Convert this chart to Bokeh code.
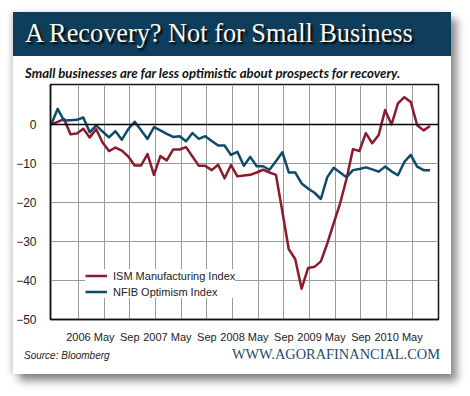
import pandas as pd
from bokeh.plotting import figure
from bokeh.models import Range1d, FixedTicker, Span, Legend, LegendItem, Div, ColumnDataSource, Spacer
from bokeh.layouts import column, row
from bokeh.embed import file_html
from bokeh.resources import INLINE

# ---- data ----
months = pd.period_range("2005-09", periods=60, freq="M")
ism = [0.0, 0.7, 1.4, -2.5, -2.3, -1.1, -3.3, -1.2, -4.6, -6.8,
       -5.9, -6.7, -8.2, -10.5, -10.5, -7.6, -12.9, -8.1, -9.2, -6.4,
       -6.4, -5.8, -8.2, -10.6, -10.6, -11.7, -10.3, -13.8, -10.4, -13.3,
       -13.1, -12.9, -12.3, -11.6, -12.3, -12.9, -22.3, -32.0, -34.5, -42.1,
       -36.8, -36.5, -35.1, -30.5, -25.3, -20.2, -13.9, -6.3, -6.8, -2.2,
       -4.8, -2.7, 3.7, 0.0, 5.4, 7.0, 5.8, -0.2, -1.5, -0.4]
nfib = [0.0, 4.0, 1.0, 1.1, 1.2, 1.8, -2.0, -0.2, -1.8, -3.3,
        -1.7, -3.9, -1.2, 0.7, -1.5, -3.7, -0.7, -1.5, -2.4, -3.2,
        -3.0, -4.3, -2.2, -3.7, -3.0, -4.2, -5.4, -5.4, -7.8, -7.0,
        -10.6, -8.3, -10.7, -10.7, -11.6, -9.4, -7.1, -12.3, -12.3, -15.1,
        -16.4, -17.5, -19.1, -13.5, -11.1, -12.3, -13.5, -11.7, -11.4, -11.0,
        -11.5, -12.1, -10.8, -12.0, -13.0, -9.6, -7.8, -10.8, -11.7, -11.7]
tick_dates = ["2006-01", "2006-05", "2006-09", "2007-01", "2007-05", "2007-09",
              "2008-01", "2008-05", "2008-09", "2009-01", "2009-05", "2009-09",
              "2010-01", "2010-05"]
tick_labels = ["2006", "May", "Sep", "2007", "May", "Sep", "2008", "May", "Sep",
               "2009", "May", "Sep", "2010", "May"]
y_ticks = [-50, -40, -30, -20, -10, 0]

TITLE = "A Recovery? Not for Small Business"
SUBTITLE = "Small businesses are far less optimistic about prospects for recovery."
SOURCE = "Source: Bloomberg"
URL = "WWW.AGORAFINANCIAL.COM"

RED = "#8b1a2b"
BLUE = "#0e4a6a"
SHIFT = -0.24  # data points sit slightly before the month gridlines


def month_num(p):
    return (p.year - 2006) * 12 + (p.month - 1)


xs = [month_num(m) + SHIFT for m in months]
tick_pos = [month_num(pd.Period(d, freq="M")) for d in tick_dates]

src = ColumnDataSource(dict(x=xs, ism=ism, nfib=nfib))

p = figure(width=438, height=265, output_backend="svg", toolbar_location=None,
           x_range=Range1d(-4.35, 56.08), y_range=Range1d(-50, 10.26),
           min_border_left=36, min_border_right=13, min_border_top=4, min_border_bottom=22,
           background_fill_color="white", border_fill_color="white")

p.outline_line_color = "#111111"
p.outline_line_width = 1.5

p.xaxis.ticker = FixedTicker(ticks=tick_pos)
p.xaxis.major_label_overrides = {t: l for t, l in zip(tick_pos, tick_labels)}
p.yaxis.ticker = FixedTicker(ticks=y_ticks)
for ax in (p.xaxis, p.yaxis):
    ax.major_tick_line_color = None
    ax.minor_tick_line_color = None
    ax.axis_line_color = "#111111"
    ax.axis_line_width = 1.5
    ax.major_label_text_font = "Liberation Sans"
    ax.major_label_text_color = "#222222"
p.xaxis.major_label_text_font_size = "11px"
p.xaxis.major_label_standoff = 5
p.yaxis.major_label_text_font_size = "12px"
p.yaxis.major_label_standoff = 8

p.xgrid.ticker = FixedTicker(ticks=tick_pos)
p.ygrid.ticker = FixedTicker(ticks=y_ticks)
for g in (p.xgrid, p.ygrid):
    g.grid_line_color = "#9a9a9a"
    g.grid_line_width = 1

p.add_layout(Span(location=0, dimension="width", line_color="#000000", line_width=1.5))

r1 = p.line("x", "ism", source=src, line_color=RED, line_width=2.5, line_join="round")
r2 = p.line("x", "nfib", source=src, line_color=BLUE, line_width=2.5, line_join="round")

legend = Legend(items=[LegendItem(label="ISM Manufacturing Index", renderers=[r1]),
                       LegendItem(label="NFIB Optimism Index", renderers=[r2])],
                location=(35, 21), padding=6, spacing=3, glyph_width=22, glyph_height=13,
                label_height=13, label_standoff=6, margin=0,
                background_fill_color="white", background_fill_alpha=1.0,
                border_line_color=None, label_text_font="Liberation Sans",
                label_text_font_size="11px", label_text_color="#222222")
p.add_layout(legend)

DIV_FIX = {"line-height": "0px", "font-size": "0px", "overflow": "hidden", "margin": "0px", "padding": "0px"}

header = Div(text=('<div style="display:block;width:438px;height:44px;background:#0f3d5c;color:#fbf9f0;'
                   'font-family:\'Liberation Serif\';font-size:26.3px;line-height:44px;'
                   'padding-left:12px;box-sizing:border-box;white-space:nowrap;'
                   'text-shadow:2px 2px 2px #000;">' + TITLE + '</div>'),
             width=438, height=44, styles=DIV_FIX)

subtitle = Div(text=('<div style="display:block;width:438px;height:24px;background:white;color:#111;'
                     'font-family:Lato;font-weight:bold;font-style:italic;font-size:13.2px;'
                     'line-height:14px;padding-left:12px;padding-top:10px;box-sizing:border-box;'
                     'white-space:nowrap;">' + SUBTITLE + '</div>'),
               width=438, height=24, styles=DIV_FIX)

footer = Div(text=('<div style="display:block;position:relative;width:438px;height:29px;background:white;">'
                   '<span style="position:absolute;left:11px;top:4.5px;font-family:\'Liberation Sans\';'
                   'font-style:italic;font-size:10px;line-height:12px;color:#222;white-space:nowrap;">'
                   + SOURCE + '</span>'
                   '<span style="position:absolute;right:11px;top:1px;font-family:\'Liberation Serif\';'
                   'font-size:14.4px;line-height:16px;color:#1d4d6d;white-space:nowrap;">'
                   + URL + '</span></div>'),
             width=438, height=29, styles=DIV_FIX)

card = column(header, subtitle, p, footer, spacing=0,
              styles={"box-shadow": "6px 7px 8px rgba(0,0,0,0.45), -3px 0px 5px rgba(0,0,0,0.15)",
                      "background-color": "white"})

page = column(Spacer(height=12), row(Spacer(width=13), card, spacing=0), spacing=0)

open("out.html", "w").write(file_html(page, INLINE))
